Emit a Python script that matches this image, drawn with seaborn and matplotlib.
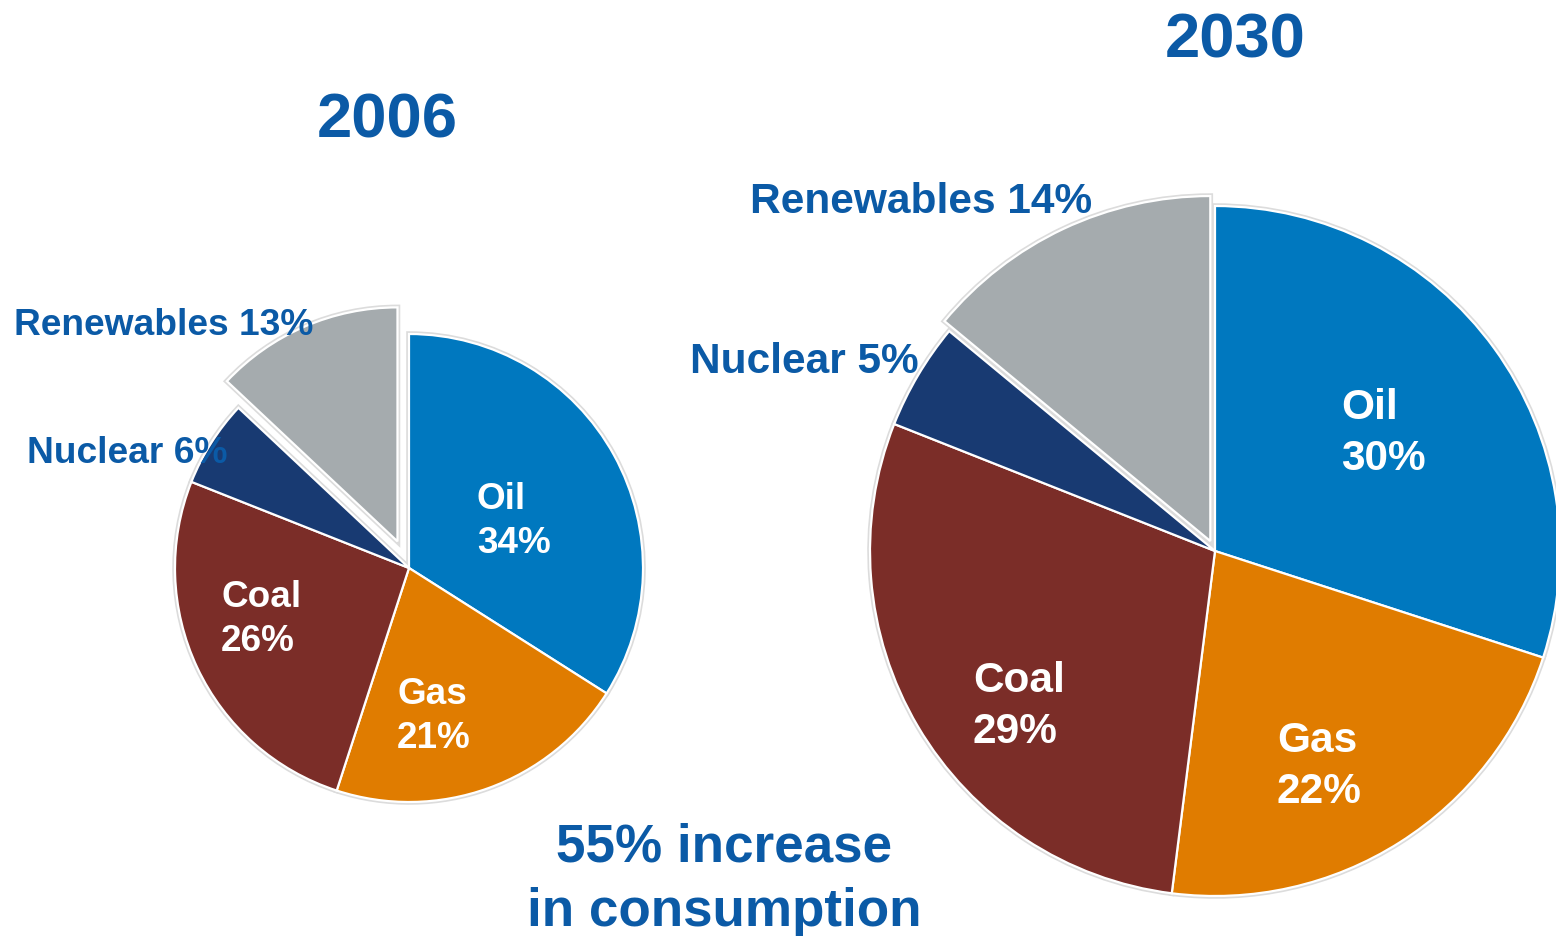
import matplotlib
matplotlib.use("Agg")
import matplotlib.pyplot as plt
import seaborn as sns

# Energy mix shares (%) by source, listed clockwise from 12 o'clock
sources = ["Oil", "Gas", "Coal", "Nuclear", "Renewables"]
share_2006 = [34, 21, 26, 6, 13]
share_2030 = [30, 22, 29, 5, 14]
years = ["2006", "2030"]
note_lines = ["55% increase", "in consumption"]

sns.set_theme(style="white")
plt.rcParams["font.family"] = ["Liberation Sans", "DejaVu Sans"]

palette = sns.color_palette(["#0078BF", "#E07C00", "#7B2D28", "#183A72", "#A5ABAE"])
text_blue = "#0B5AA6"

W, H = 1556, 937
fig = plt.figure(figsize=(W / 100, H / 100), dpi=100)
ax = fig.add_axes([0, 0, 1, 1])
ax.set_xlim(0, W)
ax.set_ylim(-H, 0)
ax.set_aspect("equal")
ax.axis("off")

# pie geometry in pixel units (y measured downward from the top edge)
pies = [
    dict(values=share_2006, cx=409, cy=569, r=234, pull=29, inner=26.6, outer=26.7,
         year_xy=(387, 138), gap=44,
         inner_xy={"Oil": (477, 509), "Gas": (397, 704), "Coal": (221, 607)},
         outer_xy={"Nuclear": (27, 463), "Renewables": (14, 335)}),
    dict(values=share_2030, cx=1215, cy=552, r=345, pull=11, inner=30.5, outer=30.5,
         year_xy=(1235, 58), gap=51,
         inner_xy={"Oil": (1341, 419), "Gas": (1277, 752), "Coal": (973, 692)},
         outer_xy={"Nuclear": (690, 373), "Renewables": (750, 213)}),
]

for year, p in zip(years, pies):
    explode = [p["pull"] if s == "Renewables" else 0 for s in sources]
    # soft halo underneath the wedges
    halo, _ = ax.pie(p["values"], center=(p["cx"], -p["cy"]), radius=p["r"],
                     startangle=90, counterclock=False, explode=explode,
                     colors=["#dcdcdc"] * len(sources),
                     wedgeprops=dict(edgecolor="#dcdcdc", linewidth=4))
    for w in halo:
        w.set_zorder(1)
    wedges, _ = ax.pie(p["values"], center=(p["cx"], -p["cy"]), radius=p["r"],
                       startangle=90, counterclock=False, explode=explode,
                       colors=palette,
                       wedgeprops=dict(edgecolor="white", linewidth=1.6))
    for w in wedges:
        w.set_zorder(2)

    # year heading
    ax.text(p["year_xy"][0], -p["year_xy"][1], year, ha="center", va="baseline",
            fontsize=45.5, fontweight="bold", color=text_blue, zorder=5)

    for name, val in zip(sources, p["values"]):
        if name in p["inner_xy"]:
            x, y = p["inner_xy"][name]
            ax.text(x, -y, name, ha="left", va="baseline", fontsize=p["inner"],
                    fontweight="bold", color="white", zorder=5)
            ax.text(x, -(y + p["gap"]), f"{val}%", ha="left", va="baseline",
                    fontsize=p["inner"], fontweight="bold", color="white", zorder=5)
        else:
            x, y = p["outer_xy"][name]
            ax.text(x, -y, f"{name} {val}%", ha="left", va="baseline",
                    fontsize=p["outer"], fontweight="bold", color=text_blue, zorder=5)

for line, y in zip(note_lines, [862, 926]):
    ax.text(724, -y, line, ha="center", va="baseline", fontsize=38.2,
            fontweight="bold", color=text_blue, zorder=5)

ax.set_xlim(0, W)
ax.set_ylim(-H, 0)
fig.savefig("out.png", dpi=100, facecolor="white")
